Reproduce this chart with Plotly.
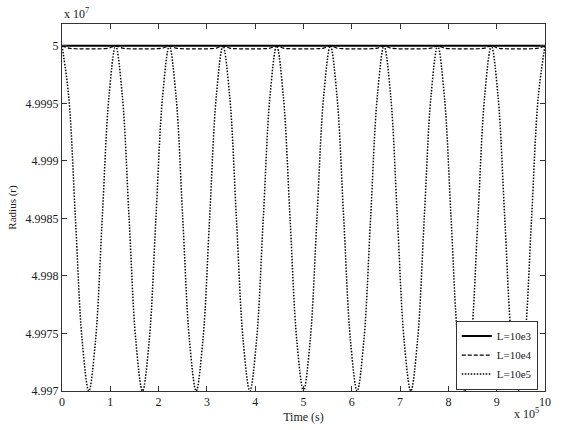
import plotly.graph_objects as go

# Time axis samples (units of 1e5 s)
time = [0.0, 0.139, 0.278, 0.417, 0.556, 0.694, 0.833, 0.972,
        1.111, 1.250, 1.389, 1.528, 1.667, 1.806, 1.944, 2.083,
        2.222, 2.361, 2.500, 2.639, 2.778, 2.917, 3.056, 3.194,
        3.333, 3.472, 3.611, 3.750, 3.889, 4.028, 4.167, 4.306,
        4.444, 4.583, 4.722, 4.861, 5.000, 5.139, 5.278, 5.417,
        5.556, 5.694, 5.833, 5.972, 6.111, 6.250, 6.389, 6.528,
        6.667, 6.806, 6.944, 7.083, 7.222, 7.361, 7.500, 7.639,
        7.778, 7.917, 8.056, 8.194, 8.333, 8.472, 8.611, 8.750,
        8.889, 9.028, 9.167, 9.306, 9.444, 9.583, 9.722, 9.861,
        10.0]

# Radius values (units of 1e7)
r_L3 = [5.0] * 73

r_L4 = [5.0, 4.99998, 4.999975, 4.999974, 4.999974, 4.999974, 4.999975, 4.99998,
        5.0, 4.99998, 4.999975, 4.999974, 4.999974, 4.999974, 4.999975, 4.99998,
        5.0, 4.99998, 4.999975, 4.999974, 4.999974, 4.999974, 4.999975, 4.99998,
        5.0, 4.99998, 4.999975, 4.999974, 4.999974, 4.999974, 4.999975, 4.99998,
        5.0, 4.99998, 4.999975, 4.999974, 4.999974, 4.999974, 4.999975, 4.99998,
        5.0, 4.99998, 4.999975, 4.999974, 4.999974, 4.999974, 4.999975, 4.99998,
        5.0, 4.99998, 4.999975, 4.999974, 4.999974, 4.999974, 4.999975, 4.99998,
        5.0, 4.99998, 4.999975, 4.999974, 4.999974, 4.999974, 4.999975, 4.99998,
        5.0, 4.99998, 4.999975, 4.999974, 4.999974, 4.999974, 4.999975, 4.99998,
        5.0]

r_L5 = [5.0, 4.99956, 4.9985, 4.99744, 4.997, 4.99744, 4.9985, 4.99956,
        5.0, 4.99956, 4.9985, 4.99744, 4.997, 4.99744, 4.9985, 4.99956,
        5.0, 4.99956, 4.9985, 4.99744, 4.997, 4.99744, 4.9985, 4.99956,
        5.0, 4.99956, 4.9985, 4.99744, 4.997, 4.99744, 4.9985, 4.99956,
        5.0, 4.99956, 4.9985, 4.99744, 4.997, 4.99744, 4.9985, 4.99956,
        5.0, 4.99956, 4.9985, 4.99744, 4.997, 4.99744, 4.9985, 4.99956,
        5.0, 4.99956, 4.9985, 4.99744, 4.997, 4.99744, 4.9985, 4.99956,
        5.0, 4.99956, 4.9985, 4.99744, 4.997, 4.99744, 4.9985, 4.99956,
        5.0, 4.99956, 4.9985, 4.99744, 4.997, 4.99744, 4.9985, 4.99956,
        5.0]

x_ticks = [0, 1, 2, 3, 4, 5, 6, 7, 8, 9, 10]
y_ticks = [4.997, 4.9975, 4.998, 4.9985, 4.999, 4.9995, 5.0]
y_tick_labels = ["4.997", "4.9975", "4.998", "4.9985", "4.999", "4.9995", "5"]

FONT = "Liberation Serif, Times New Roman, serif"
TXT = "#1a1a1a"

fig = go.Figure()
fig.add_trace(go.Scatter(x=time, y=r_L3, mode="lines", name="L=10e3",
                         line=dict(color="black", width=2, dash="solid")))
fig.add_trace(go.Scatter(x=time, y=r_L4, mode="lines", name="L=10e4",
                         line=dict(color="black", width=1.2, dash="4px,2px", shape="spline")))
fig.add_trace(go.Scatter(x=time, y=r_L5, mode="lines", name="L=10e5",
                         line=dict(color="black", width=1.5, dash="1.5px,1.5px", shape="spline")))

axis_common = dict(showline=True, linecolor="#333333", linewidth=1, mirror="ticks",
                   ticks="inside", ticklen=5, tickcolor="#333333", showgrid=False,
                   zeroline=False, automargin=False,
                   tickfont=dict(family=FONT, size=12, color=TXT))

fig.update_xaxes(range=[0, 10], tickvals=x_ticks, ticktext=[str(t) for t in x_ticks],
                 title=dict(text="Time (s)", font=dict(family=FONT, size=12, color=TXT),
                            standoff=4),
                 **axis_common)
fig.update_yaxes(range=[4.997, 5.00019], tickvals=y_ticks, ticktext=y_tick_labels,
                 title=dict(text="Radius (r)", font=dict(family=FONT, size=11, color=TXT),
                            standoff=6),
                 **axis_common)

fig.add_annotation(text="x 10<sup>7</sup>", xref="paper", yref="paper", x=0, y=1,
                   xanchor="left", yanchor="bottom", yshift=1, showarrow=False,
                   font=dict(family=FONT, size=12, color=TXT))
fig.add_annotation(text="x 10<sup>5</sup>", xref="paper", yref="paper", x=1, y=0,
                   xanchor="right", yanchor="top", yshift=-13, xshift=-4, showarrow=False,
                   font=dict(family=FONT, size=12, color=TXT))

fig.update_layout(
    width=563, height=430,
    margin=dict(l=62, r=18, t=24, b=39, autoexpand=False),
    paper_bgcolor="white", plot_bgcolor="white",
    font=dict(family=FONT, size=12, color=TXT),
    legend=dict(x=0.985, y=0.004, xanchor="right", yanchor="bottom",
                bgcolor="white", bordercolor="#333333", borderwidth=1,
                font=dict(family=FONT, size=11, color=TXT),
                tracegroupgap=0, itemwidth=30),
    showlegend=True,
)

fig.write_html("out.html",
               config={"displayModeBar": False},
               post_script="document.body.style.margin='0';document.body.style.padding='0';")
